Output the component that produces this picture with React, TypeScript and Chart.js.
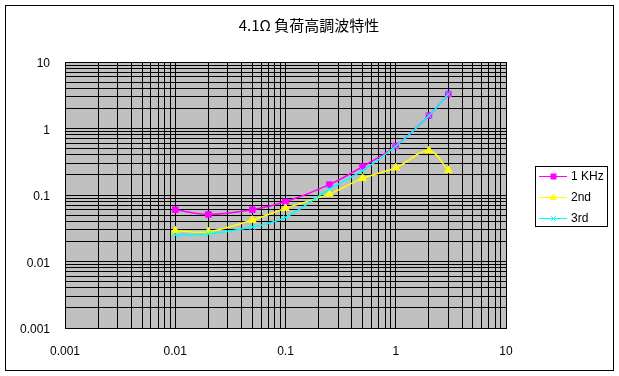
import { useEffect, useRef } from 'react';
import { Chart, registerables } from 'chart.js';

Chart.register(...registerables);

const xValues = [0.01, 0.02, 0.05, 0.1, 0.25, 0.5, 1, 2, 3];
const series1kHz = [0.06, 0.051, 0.06, 0.079, 0.143, 0.267, 0.546, 1.56, 3.3];
const series2nd = [0.029, 0.028, 0.042, 0.063, 0.104, 0.178, 0.257, 0.464, 0.235];
const series3rd = [0.025, 0.026, 0.033, 0.046, 0.122, 0.232, 0.54, 1.56, 3.3];
const seriesNames = ['1 KHz', '2nd', '3rd'];
const seriesColors = ['#ff00ff', '#ffff00', '#00ffff'];
const seriesMarkers = ['rect', 'triangle', 'crossRot'];
const decades = [0.001, 0.01, 0.1, 1, 10];
const decadeLabels = ['0.001', '0.01', '0.1', '1', '10'];
const titleText = '4.1Ω 負荷高調波特性';

function gridTicks() {
  const out: number[] = [];
  for (let i = 0; i < decades.length - 1; i++) {
    out.push(decades[i]);
    for (let m = 2; m <= 9; m++) out.push(+(decades[i] * m).toPrecision(6));
  }
  out.push(decades[decades.length - 1]);
  return out.map((v) => ({ value: v }));
}

function tickLabel(v: number) {
  const i = decades.indexOf(v);
  return i >= 0 ? decadeLabels[i] : '';
}

function drawMarker(ctx: CanvasRenderingContext2D, style: string, x: number, y: number, color: string) {
  ctx.save();
  ctx.fillStyle = color;
  ctx.strokeStyle = color;
  ctx.lineWidth = 1;
  if (style === 'rect') {
    ctx.fillRect(x - 3, y - 3, 6, 6);
  } else if (style === 'triangle') {
    ctx.beginPath();
    ctx.moveTo(x, y - 4);
    ctx.lineTo(x + 3.5, y + 2.5);
    ctx.lineTo(x - 3.5, y + 2.5);
    ctx.closePath();
    ctx.fill();
  } else {
    ctx.beginPath();
    ctx.moveTo(x - 2.5, y - 2.5);
    ctx.lineTo(x + 2.5, y + 2.5);
    ctx.moveTo(x + 2.5, y - 2.5);
    ctx.lineTo(x - 2.5, y + 2.5);
    ctx.stroke();
  }
  ctx.restore();
}

const decoPlugin = {
  id: 'deco',
  beforeDraw(chart: any) {
    const { ctx, chartArea: a } = chart;
    ctx.save();
    ctx.fillStyle = '#ffffff';
    ctx.fillRect(0, 0, chart.width, chart.height);
    ctx.fillStyle = '#c0c0c0';
    ctx.fillRect(a.left, a.top, a.right - a.left, a.bottom - a.top);
    ctx.strokeStyle = '#000000';
    ctx.lineWidth = 1;
    ctx.strokeRect(5.5, 5.5, 608, 365);
    ctx.fillStyle = '#000000';
    ctx.font = '15px "Noto Sans CJK JP", sans-serif';
    ctx.textAlign = 'center';
    ctx.textBaseline = 'middle';
    ctx.fillText(titleText, 309, 25);
    ctx.restore();
  },
  afterDraw(chart: any) {
    const { ctx } = chart;
    ctx.save();
    ctx.strokeStyle = '#000000';
    ctx.lineWidth = 1;
    ctx.strokeRect(535.5, 166.5, 72, 60);
    const ys = [176, 197, 218];
    ctx.font = '12px "Liberation Sans", Arial, sans-serif';
    ctx.textAlign = 'left';
    ctx.textBaseline = 'middle';
    seriesNames.forEach((name, i) => {
      const y = ys[i] + 0.5;
      ctx.strokeStyle = seriesColors[i];
      ctx.beginPath();
      ctx.moveTo(539, y);
      ctx.lineTo(567, y);
      ctx.stroke();
      drawMarker(ctx, seriesMarkers[i], 553.5, y, seriesColors[i]);
      ctx.fillStyle = '#000000';
      ctx.fillText(name, 571, ys[i] + 1);
    });
    ctx.restore();
  },
};

export default function App() {
  const ref = useRef<HTMLCanvasElement | null>(null);
  useEffect(() => {
    if (!ref.current) return;
    const allSeries = [series1kHz, series2nd, series3rd];
    const radii = [4, 4.5, 4.5];
    const chart = new Chart(ref.current, {
      type: 'line',
      data: {
        datasets: allSeries.map((s, i) => ({
          label: seriesNames[i],
          data: xValues.map((x, j) => ({ x, y: s[j] })),
          borderColor: seriesColors[i],
          backgroundColor: seriesColors[i],
          pointBackgroundColor: seriesColors[i],
          pointBorderColor: seriesColors[i],
          pointStyle: seriesMarkers[i] as any,
          pointRadius: radii[i],
          pointBorderWidth: 1,
          borderWidth: 1.5,
          tension: 0.35,
          fill: false,
          order: 3 - i,
        })),
      },
      options: {
        responsive: false,
        animation: false,
        layout: { padding: { left: 0, top: 62, right: 113, bottom: 0 } },
        plugins: {
          legend: { display: false },
          title: { display: false },
          tooltip: { enabled: false },
        },
        scales: {
          x: {
            type: 'logarithmic',
            min: 0.001,
            max: 10,
            afterBuildTicks: (scale: any) => {
              scale.ticks = gridTicks();
            },
            afterFit: (scale: any) => {
              scale.height = 48;
            },
            grid: { color: '#000000', lineWidth: 1, drawTicks: false },
            border: { display: true, color: '#000000', width: 1 },
            ticks: {
              autoSkip: false,
              maxRotation: 0,
              minRotation: 0,
              padding: 16,
              color: '#000000',
              font: { family: '"Liberation Sans", Arial, sans-serif', size: 12 },
              callback: (v: any) => tickLabel(Number(v)),
            },
          },
          y: {
            type: 'logarithmic',
            min: 0.001,
            max: 10,
            afterBuildTicks: (scale: any) => {
              scale.ticks = gridTicks();
            },
            afterFit: (scale: any) => {
              scale.width = 65;
            },
            grid: { color: '#000000', lineWidth: 1, drawTicks: false },
            border: { display: true, color: '#000000', width: 1 },
            ticks: {
              autoSkip: false,
              padding: 15,
              labelOffset: 2,
              color: '#000000',
              font: { family: '"Liberation Sans", Arial, sans-serif', size: 12 },
              callback: (v: any) => tickLabel(Number(v)),
            },
          },
        },
      },
      plugins: [decoPlugin],
    } as any);
    return () => chart.destroy();
  }, []);
  return (
    <div style={{ position: 'absolute', left: 0, top: 0, width: 619, height: 376, background: '#fff' }}>
      <canvas ref={ref} width={619} height={376} style={{ display: 'block' }} />
    </div>
  );
}
